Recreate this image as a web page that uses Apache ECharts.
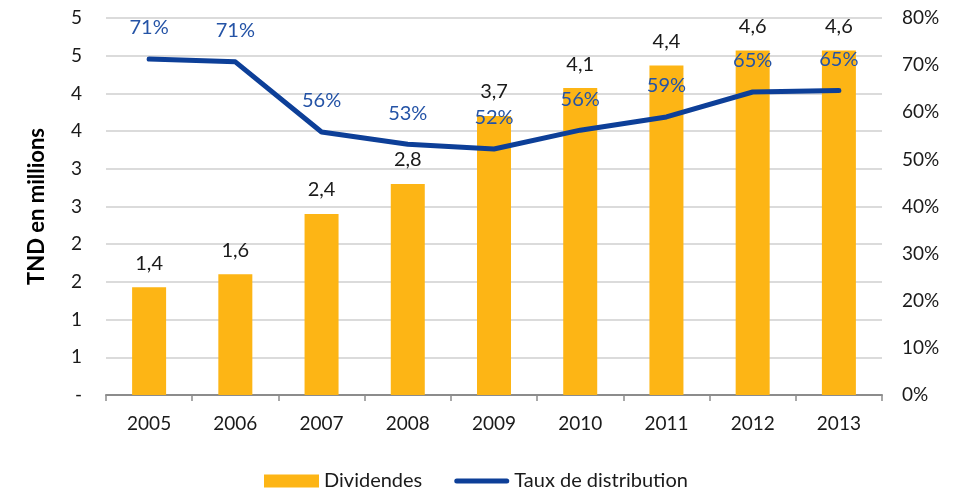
<!DOCTYPE html>
<html>
<head>
<meta charset="utf-8">
<script src="https://cdn.jsdelivr.net/npm/echarts@6/dist/echarts.min.js"></script>
<style>
  html, body { margin: 0; padding: 0; background: #fff; }
  #chart { width: 966px; height: 488px; }
</style>
</head>
<body>
<div id="chart"></div>
<script>
  // categories and values
  const years = ['2005', '2006', '2007', '2008', '2009', '2010', '2011', '2012', '2013']
  const dividendes = [1.43, 1.6, 2.4, 2.8, 3.7, 4.07, 4.37, 4.57, 4.57]
  const dividendesLabels = ['1,4', '1,6', '2,4', '2,8', '3,7', '4,1', '4,4', '4,6', '4,6']
  const taux = [71.3, 70.7, 55.8, 53.2, 52.2, 56.2, 59.0, 64.3, 64.6]
  const tauxLabels = ['71%', '71%', '56%', '53%', '52%', '56%', '59%', '65%', '65%']

  const font = 'Lato, "Open Sans", sans-serif'
  const myChart = echarts.init(document.getElementById('chart'))

  const option = {
    animation: false,
    textStyle: { fontFamily: font },
    grid: {
      left: 106,
      right: 84,
      top: 18,
      bottom: 93
    },
    legend: {
      left: 259,
      top: 466,
      itemGap: 32,
      itemWidth: 55,
      itemHeight: 13,
      textStyle: { fontSize: 20, color: '#1a1a1a', fontFamily: font },
      data: [
        { name: 'Dividendes', icon: 'rect' },
        {
          name: 'Taux de distribution',
          icon: 'path://M2.5,0 L52.5,0 A2.5,2.5 0 0 1 52.5,5 L2.5,5 A2.5,2.5 0 0 1 2.5,0 Z',
          symbolKeepAspect: true
        }
      ]
    },
    xAxis: {
      type: 'category',
      data: years,
      axisLine: { lineStyle: { color: '#8c8c8c', width: 2 } },
      axisTick: { show: true, length: 6, lineStyle: { color: '#8c8c8c', width: 1.5 } },
      axisLabel: { fontSize: 19, color: '#1a1a1a', margin: 19 }
    },
    yAxis: [
      {
        type: 'value',
        min: 0,
        max: 5,
        interval: 0.5,
        name: 'TND en millions',
        nameLocation: 'middle',
        nameGap: 58,
        nameRotate: 90,
        nameTextStyle: { fontSize: 22, fontWeight: 'bold', color: '#000' },
        axisLine: { show: false },
        axisTick: { show: false },
        axisLabel: {
          fontSize: 19,
          color: '#1a1a1a',
          margin: 24,
          formatter: function (v) {
            return v === 0 ? '-' : String(Math.round(v))
          }
        },
        splitLine: { lineStyle: { color: '#cfcfcf', width: 1.5 } }
      },
      {
        type: 'value',
        min: 0,
        max: 80,
        interval: 10,
        axisLine: { show: false },
        axisTick: { show: false },
        axisLabel: { fontSize: 19, color: '#1a1a1a', margin: 20, formatter: '{value}%' },
        splitLine: { show: false }
      }
    ],
    series: [
      {
        name: 'Dividendes',
        type: 'bar',
        data: dividendes,
        barWidth: 34,
        itemStyle: { color: '#fdb515' },
        label: {
          show: true,
          position: 'top',
          distance: 14,
          fontSize: 20,
          color: '#1a1a1a',
          formatter: function (p) { return dividendesLabels[p.dataIndex] }
        },
        z: 2
      },
      {
        name: 'Taux de distribution',
        type: 'line',
        yAxisIndex: 1,
        data: taux,
        symbol: 'circle',
        symbolSize: 0.1,
        showSymbol: true,
        lineStyle: { color: '#0d3f98', width: 5, cap: 'round', join: 'round' },
        itemStyle: { color: '#0d3f98' },
        label: {
          show: true,
          position: 'top',
          distance: 21,
          fontSize: 20,
          color: '#2453a6',
          formatter: function (p) { return tauxLabels[p.dataIndex] }
        },
        z: 3
      }
    ]
  }

  myChart.setOption(option)
</script>
</body>
</html>
